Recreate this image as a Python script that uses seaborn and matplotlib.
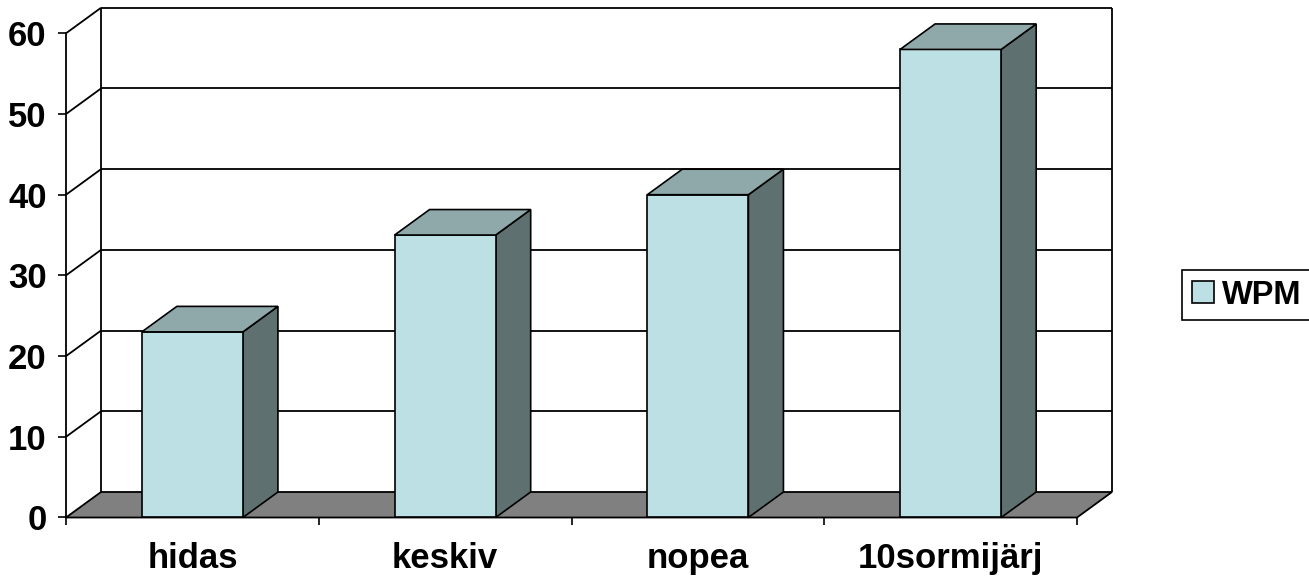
import matplotlib
matplotlib.use("Agg")
import matplotlib.pyplot as plt
from matplotlib.patches import Polygon, Patch
import seaborn as sns

# Chart data
categories = ["hidas", "keskiv", "nopea", "10sormijärj"]
wpm = [23, 35, 40, 58]
series_name = "WPM"
y_ticks = [0, 10, 20, 30, 40, 50, 60]

# Colours of the 3D column faces
front_col = "#BCE0E3"
top_col = "#8FA9AA"
side_col = "#5F7071"
floor_col = "#808080"

sns.set_theme(style="white")
plt.rcParams["font.family"] = ["Liberation Sans", "DejaVu Sans"]
plt.rcParams["font.weight"] = "bold"
plt.rcParams["text.color"] = "black"
plt.rcParams["xtick.color"] = "black"
plt.rcParams["ytick.color"] = "black"
plt.rcParams["axes.labelcolor"] = "black"

fig = plt.figure(figsize=(13.09, 5.77), dpi=100)
ax = fig.add_axes([0.05042, 0.10312, 0.77235, 0.83917])
ax.set_facecolor("none")

# depth offset of the back plane, in data units (x: categories, y: value)
ddx = 0.1385
ddy = 3.16

x_lo, x_hi = -0.5, len(categories) - 0.5
y_lo, y_hi = y_ticks[0], y_ticks[-1]

line_kw = dict(color="black", lw=1.3, clip_on=False, solid_capstyle="butt")

# back wall gridlines and side-wall diagonals
for v in y_ticks[1:]:
    ax.plot([x_lo + ddx, x_hi + ddx], [v + ddy, v + ddy], zorder=1, **line_kw)
    ax.plot([x_lo, x_lo + ddx], [v, v + ddy], zorder=1, **line_kw)
# back wall verticals
ax.plot([x_lo + ddx, x_lo + ddx], [y_lo + ddy, y_hi + ddy], zorder=1, **line_kw)
ax.plot([x_hi + ddx, x_hi + ddx], [y_lo + ddy, y_hi + ddy], zorder=1, **line_kw)

# floor
floor = Polygon([(x_lo, y_lo), (x_hi, y_lo), (x_hi + ddx, y_lo + ddy), (x_lo + ddx, y_lo + ddy)],
                closed=True, facecolor=floor_col, edgecolor="black", lw=1.3,
                zorder=2, clip_on=False)
ax.add_patch(floor)

# column front faces
sns.barplot(x=categories, y=wpm, color=front_col, saturation=1, width=0.4,
            edgecolor="black", linewidth=1.2, zorder=4, ax=ax)

# column side and top faces, derived from the drawn bars
for bar in list(ax.patches):
    if bar is floor:
        continue
    x0 = bar.get_x()
    x1 = x0 + bar.get_width()
    v = bar.get_height()
    bar.set_clip_on(False)
    side = Polygon([(x1, 0), (x1 + ddx, ddy), (x1 + ddx, v + ddy), (x1, v)], closed=True,
                   facecolor=side_col, edgecolor="black", lw=1.2, zorder=3, clip_on=False)
    top = Polygon([(x0, v), (x1, v), (x1 + ddx, v + ddy), (x0 + ddx, v + ddy)], closed=True,
                  facecolor=top_col, edgecolor="black", lw=1.2, zorder=4, clip_on=False)
    ax.add_patch(side)
    ax.add_patch(top)

ax.set_xlim(x_lo, x_hi)
ax.set_ylim(y_lo, y_hi)

for s in ["top", "right", "bottom"]:
    ax.spines[s].set_visible(False)
ax.spines["left"].set_color("black")
ax.spines["left"].set_linewidth(1.3)

ax.set_yticks(y_ticks)
ax.set_yticklabels([str(t) for t in y_ticks], fontsize=25, fontweight="bold", color="black")
ax.tick_params(axis="y", direction="out", length=6, width=1.2, color="black",
               left=True, pad=8)

ax.set_xticks(range(len(categories)))
ax.set_xticklabels(categories, fontsize=25, fontweight="bold", color="black")
ax.set_xticks([x_lo + i for i in range(len(categories) + 1)], minor=True)
ax.tick_params(axis="x", which="major", length=0, pad=18)
ax.tick_params(axis="x", which="minor", direction="out", length=6, width=1.2,
               color="black", bottom=True)
ax.set_xlabel("")
ax.set_ylabel("")
ax.grid(False)

handle = Patch(facecolor=front_col, edgecolor="black", lw=1.2)
leg = fig.legend([handle], [series_name], loc="center left",
                 bbox_to_anchor=(0.9028, 0.4887), frameon=True, fancybox=False,
                 edgecolor="black", framealpha=1, handlelength=0.68, handleheight=0.68,
                 handletextpad=0.25, borderpad=0.3, borderaxespad=0,
                 prop={"size": 23.5, "weight": "bold"})
leg.get_frame().set_linewidth(1.2)
for t in leg.get_texts():
    t.set_color("black")

fig.savefig("out.png", dpi=100)
